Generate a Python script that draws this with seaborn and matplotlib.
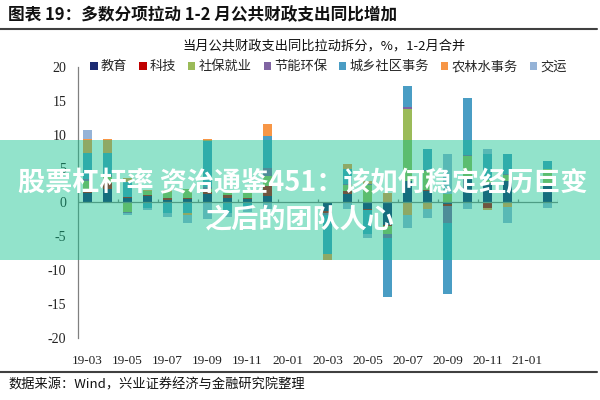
import numpy as np
import pandas as pd
import matplotlib
matplotlib.use("Agg")
import matplotlib.pyplot as plt
import seaborn as sns
from matplotlib.patches import Patch, Rectangle
from matplotlib.lines import Line2D

months = ["19-03", "19-04", "19-05", "19-06", "19-07", "19-08", "19-09", "19-10",
          "19-11", "19-12", "20-01", "20-02", "20-03", "20-04", "20-05", "20-06",
          "20-07", "20-08", "20-09", "20-10", "20-11", "20-12", "21-01", "21-02"]
tick_labels = months[::2]

series_names = ["教育", "科技", "社保就业", "节能环保", "城乡社区事务", "农林水事务", "交运"]
edu = [1.4, 1.9, 0.6, 1.0, 0.3, 0.5, 1.3, 0.6, 0.5, 1.0, 0, 0, -1.3, 1.3, -1.0, -3.4, 3.1, 1.6, -0.3, 3.6, 2.8, 3.1, 0, 2.4]
tech = [0.3, 1.0, 0.2, 0.1, 0.4, 0.1, 0.2, 0.5, 0.1, 1.4, 0, 0, -0.2, 0.3, -0.2, -0.1, 0.0, 0.2, -0.2, 0.2, -0.9, 0.1, 0, 0.4]
social = [1.5, 0.8, -1.4, 0.5, 0.8, 1.3, 0.5, 0.3, 0.8, 1.5, 0, 0, 0.0, 1.0, 2.5, -1.1, 10.6, 2.8, 1.2, 3.0, 0.5, 0.8, 0, 2.1]
energy = [0.2, 0.3, -0.2, 0.0, -0.1, 0.1, 0.2, 0.0, 0.0, 1.1, 0, 0, -0.3, 0.1, 0.2, -0.6, 0.35, 0.1, -2.5, 0.2, 0.0, 0.2, 0, 0.0]
urban = [3.9, 3.3, 2.2, -0.9, -1.5, -1.6, 6.8, -1.5, -1.0, 4.8, 0, 0, -5.8, 2.2, -3.4, -8.7, 3.1, 3.2, -10.5, 8.4, 3.8, 3.0, 0, 1.2]
agri = [2.0, 2.0, 0.6, 0.2, 0.3, -0.3, 0.3, 0.0, 0.0, 1.8, 0, 0, -0.9, 0.8, 0.4, 1.4, -1.8, -1.0, 0.0, 0.0, -0.3, -0.7, 0, 0.0]
transport = [1.3, 0.0, -0.2, -0.3, -0.5, -1.2, -2.5, -0.6, -0.4, -1.0, 0, 0, 0.0, -1.0, -0.7, 0.0, -2.0, -1.3, 6.0, -1.0, 0.7, -2.4, 0, -0.9]

series_values = [edu, tech, social, energy, urban, agri, transport]
colors = ["#1B2A72", "#C00000", "#9BBB59", "#8064A2", "#4A9DC4", "#F79646", "#95B3D7"]

sns.set_theme(style="white")
plt.rcParams['font.family'] = ['Noto Sans CJK SC', 'DejaVu Sans']
plt.rcParams['axes.unicode_minus'] = False

fig = plt.figure(figsize=(6, 4), dpi=100)
fig.patch.set_facecolor("white")
ax = fig.add_axes([77.5 / 600, 1 - 338 / 400, 480 / 600, (338 - 66.7) / 400])
ax.set_facecolor("white")

n = len(months)
x = np.arange(n)
pos_bottom = np.zeros(n)
neg_bottom = np.zeros(n)
for vals, c in zip(series_values, colors):
    v = np.asarray(vals, dtype=float)
    pos = np.where(v > 0, v, 0.0)
    neg = np.where(v < 0, v, 0.0)
    df = pd.DataFrame({"x": x, "pos": pos, "neg": neg})
    sns.barplot(data=df, x="x", y="pos", bottom=pos_bottom.copy(), native_scale=True,
                color=c, saturation=1, width=0.43, errorbar=None, linewidth=0, ax=ax)
    sns.barplot(data=df, x="x", y="neg", bottom=neg_bottom.copy(), native_scale=True,
                color=c, saturation=1, width=0.43, errorbar=None, linewidth=0, ax=ax)
    pos_bottom += pos
    neg_bottom += neg

grey = "#808080"
ax.set_xlim(-0.5, n - 0.5)
ax.set_ylim(-20, 20)
ax.set_yticks(range(-20, 21, 5))
ax.set_xticks(x[::2])
ax.set_xticklabels(tick_labels)
ax.set_xlabel("")
ax.set_ylabel("")
for s in ["top", "right", "bottom"]:
    ax.spines[s].set_visible(False)
ax.spines["left"].set_color(grey)
ax.spines["left"].set_linewidth(0.9)
ax.tick_params(axis="y", direction="in", length=4, color=grey, pad=8, labelsize=10, labelcolor="#222222")
ax.tick_params(axis="x", length=0, pad=12, labelsize=9.5, labelcolor="#222222")
for lab in ax.get_xticklabels() + ax.get_yticklabels():
    lab.set_fontfamily("Liberation Serif")

ax.axhline(0, color=grey, lw=0.9, zorder=3)
ax.vlines(np.arange(-0.5, n, 2), 0, 0.5, color=grey, lw=0.9, zorder=3)

handles = [Patch(facecolor=c, edgecolor="none") for c in colors]
ax.legend(handles, series_names, loc="center", bbox_to_anchor=(0.523, 1.0), ncol=7,
          frameon=False, fontsize=9.5, handlelength=0.55, handleheight=0.55,
          handletextpad=0.25, columnspacing=0.9, borderaxespad=0, borderpad=0)

fig.text(8 / 600, 1 - 15 / 400, "图表 19：多数分项拉动 1-2 月公共财政支出同比增加",
         fontsize=12, fontweight="bold", ha="left", va="center", color="#111111")
fig.add_artist(Line2D([0, 597 / 600], [1 - 29 / 400] * 2, transform=fig.transFigure,
                      color="#404040", lw=1.5))
fig.text(324 / 600, 1 - 46 / 400, "当月公共财政支出同比拉动拆分，%，1-2月合并",
         fontsize=9.5, ha="center", va="center", color="#111111")
fig.add_artist(Line2D([0, 597 / 600], [1 - 372 / 400] * 2, transform=fig.transFigure,
                      color="#404040", lw=1.5))
fig.text(8 / 600, 1 - 385 / 400, "数据来源：Wind，兴业证券经济与金融研究院整理",
         fontsize=9.5, ha="left", va="center", color="#111111")

fig.add_artist(Rectangle((0, 0.35), 1, 0.3, transform=fig.transFigure,
                         facecolor=(15 / 255, 193 / 255, 140 / 255), alpha=0.45,
                         edgecolor="none", zorder=5))
fig.text(303 / 600, 1 - 183 / 400, "股票杠杆率 资治通鉴451：该如何稳定经历巨变",
         fontsize=19.5, fontweight="bold", color="white", ha="center", va="center", zorder=6)
fig.text(300 / 600, 1 - 219 / 400, "之后的团队人心",
         fontsize=19.5, fontweight="bold", color="white", ha="center", va="center", zorder=6)

fig.savefig("out.png", dpi=100, facecolor="white")
